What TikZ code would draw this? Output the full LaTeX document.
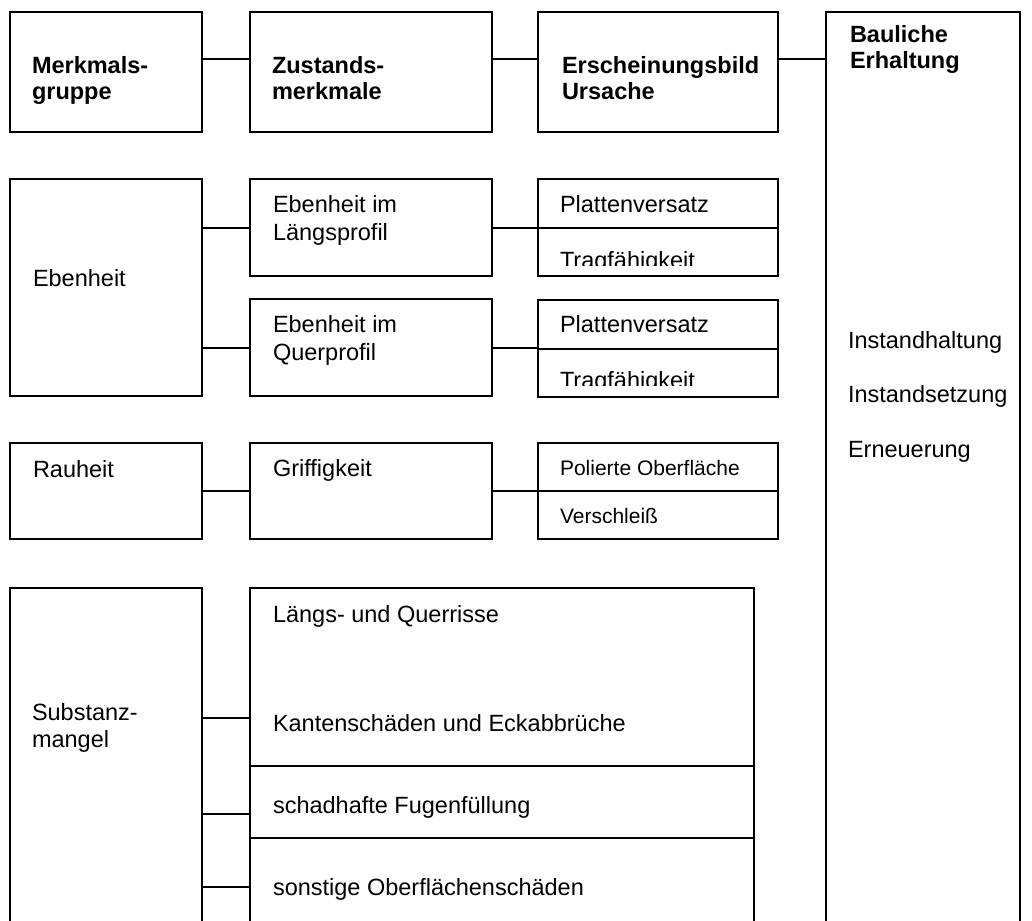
\documentclass[tikz,border=0pt]{standalone}
\usepackage{fontspec}
\setmainfont{Liberation Sans}

\tikzset{
	box/.style={draw,rectangle,inner sep=0pt,outer sep=0pt,anchor=north west},
	txt/.style={inner sep=0pt,anchor=base west,align=left,font=\fontsize{23.5}{28}\selectfont},
	head/.style={txt,font=\fontsize{23.5}{26}\selectfont\bfseries},
	smalltxt/.style={txt,font=\fontsize{21}{25}\selectfont}
}

\begin{document}
\begin{tikzpicture}[x=1pt,y=-1pt,line width=2pt]
	\useasboundingbox (0,0) rectangle (1032,920);
	\clip (0,0) rectangle (1032,920);
	\coordinate(hd) at (0,59);
	\coordinate(k1) at (0,718);
	\coordinate(k2) at (0,814);
	\coordinate(k3) at (0,887);
	\coordinate(d1) at (0,766);
	\coordinate(d2) at (0,838);

	% header row
	\node[box,minimum width=192pt,minimum height=120pt](merk) at (10,12){};
	\node[box,minimum width=242pt,minimum height=120pt](zust) at (250,12){};
	\node[box,minimum width=240pt,minimum height=120pt](ersch) at (538,12){};
	\node[box,minimum width=194pt,minimum height=940pt](baul) at (826,12){};
	\node[head](merk-t) at (31,100){Merkmals-\\gruppe};
	\node[head](zust-t) at (271,100){Zustands-\\merkmale};
	\node[head](ersch-t) at (561,100){Erscheinungsbild\\Ursache};
	\node[head](baul-t) at (849,69){Bauliche\\Erhaltung};
	\draw(merk.east |- hd)--(zust.west |- hd);
	\draw(zust.east |- hd)--(ersch.west |- hd);
	\draw(ersch.east |- hd)--(baul.west |- hd);

	% Ebenheit
	\node[box,minimum width=192pt,minimum height=217pt](eben) at (10,179){};
	\node[box,minimum width=242pt,minimum height=97pt](laengs) at (250,179){};
	\node[box,minimum width=242pt,minimum height=97pt](quer) at (250,299){};
	\node[box,minimum width=240pt,minimum height=97pt](pv1) at (538,179){};
	\node[box,minimum width=240pt,minimum height=97pt](pv2) at (538,300){};
	\node[txt](eben-t) at (32,286){Ebenheit};
	\node[txt](laengs-t) at (272,240){Ebenheit im\\Längsprofil};
	\node[txt](quer-t) at (272,360){Ebenheit im\\Querprofil};
	\node[txt](pv1-t) at (559,212){Plattenversatz};
	\node[txt](pv2-t) at (559,332){Plattenversatz};
	\begin{scope}
		\clip(pv1.west) rectangle ([yshift=10.5pt]pv1.south east);
		\node[txt](tf1-t) at (559,268){Tragfähigkeit};
	\end{scope}
	\begin{scope}
		\clip(pv2.west) rectangle ([yshift=11.5pt]pv2.south east);
		\node[txt](tf2-t) at (559,388){Tragfähigkeit};
	\end{scope}
	\draw(pv1.west)--(pv1.east);
	\draw(pv2.west)--(pv2.east);
	\draw(eben.east |- laengs)--(laengs);
	\draw(eben.east |- quer)--(quer);
	\draw(laengs)--(pv1);
	\draw(quer.east)--(quer.east -| pv2.west);

	% Rauheit
	\node[box,minimum width=192pt,minimum height=96pt](rau) at (10,443){};
	\node[box,minimum width=242pt,minimum height=96pt](griff) at (250,443){};
	\node[box,minimum width=240pt,minimum height=96pt](pol) at (538,443){};
	\node[txt](rau-t) at (32,477){Rauheit};
	\node[txt](griff-t) at (272,476){Griffigkeit};
	\node[smalltxt](pol-t) at (559,475){Polierte Oberfläche};
	\node[smalltxt](versch-t) at (559,523){Verschleiß};
	\draw(pol.west)--(pol.east);
	\draw(rau)--(griff);
	\draw(griff)--(pol);

	% Substanzmangel
	\node[box,minimum width=192pt,minimum height=360pt](subst) at (10,588){};
	\node[box,minimum width=504pt,minimum height=360pt](schaed) at (250,588){};
	\node[txt,font=\fontsize{23.5}{27}\selectfont](subst-t) at (31,747){Substanz-\\mangel};
	\node[txt](riss-t) at (272,622){Längs- und Querrisse};
	\node[txt](kant-t) at (272,731){Kantenschäden und Eckabbrüche};
	\node[txt](fuge-t) at (272,813){schadhafte Fugenfüllung};
	\node[txt](sonst-t) at (272,895){sonstige Oberflächenschäden};
	\draw(schaed.west |- d1)--(schaed.east |- d1);
	\draw(schaed.west |- d2)--(schaed.east |- d2);
	\draw(subst.east |- k1)--(schaed.west |- k1);
	\draw(subst.east |- k2)--(schaed.west |- k2);
	\draw(subst.east |- k3)--(schaed.west |- k3);

	% Bauliche Erhaltung
	\node[txt](ihalt-t) at (847,348){Instandhaltung};
	\node[txt](isetz-t) at (847,402){Instandsetzung};
	\node[txt](erneu-t) at (847,457){Erneuerung};
\end{tikzpicture}
\end{document}
